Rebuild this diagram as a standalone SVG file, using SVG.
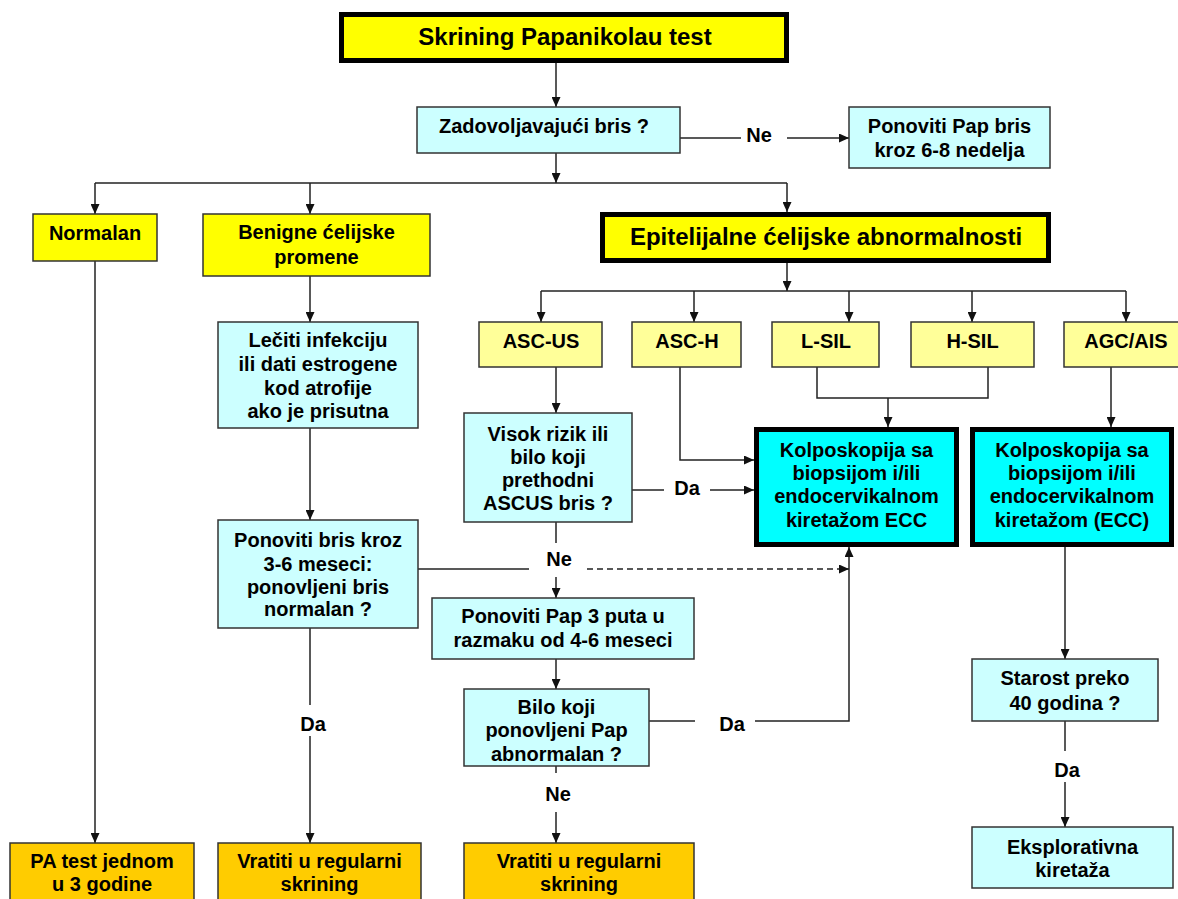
<svg xmlns="http://www.w3.org/2000/svg" width="1178" height="899" viewBox="0 0 1178 899">
<style>
text{font-family:"Liberation Sans",Arial,sans-serif;font-weight:bold;font-size:20px;fill:#000;text-anchor:middle}
.big{font-size:24px}
.thin{stroke:#333;stroke-width:1.5}
.thick{stroke:#000;stroke-width:5}
.y{fill:#FFFF00}.ly{fill:#FFFF99}.c{fill:#CCFFFF}.cc{fill:#00FFFF}.o{fill:#FFCC00}
.ln{fill:none;stroke:#222;stroke-width:1.5}
.ar{marker-end:url(#ah)}
.dash{stroke-dasharray:6,4}
</style>
<defs>
<marker id="ah" markerUnits="userSpaceOnUse" markerWidth="10" markerHeight="9" refX="10" refY="4.5" orient="auto"><path d="M0,0 L10,4.5 L0,9 z" fill="#111"/></marker>
</defs>
<rect width="1178" height="899" fill="#fff"/>
<g id="connectors">
<path class="ln ar" d="M556 63 V107"/>
<path class="ln" d="M680 138 H741"/>
<path class="ln ar" d="M787 138 H849"/>
<path class="ln ar" d="M556 153 V183"/>
<path class="ln" d="M95 183 H787"/>
<path class="ln ar" d="M95 183 V214"/>
<path class="ln ar" d="M310 183 V214"/>
<path class="ln ar" d="M787 183 V212"/>
<path class="ln ar" d="M95 261 V843"/>
<path class="ln ar" d="M310 276 V322"/>
<path class="ln ar" d="M310 428 V520"/>
<path class="ln" d="M310 628 V705"/>
<path class="ln ar" d="M310 736 V843"/>
<path class="ln" d="M418 569 H529"/>
<path class="ln ar" d="M787 263 V291"/>
<path class="ln" d="M541 291 H1126"/>
<path class="ln ar" d="M541 291 V322"/>
<path class="ln ar" d="M694 291 V322"/>
<path class="ln ar" d="M849 291 V322"/>
<path class="ln ar" d="M972 291 V322"/>
<path class="ln ar" d="M1126 291 V322"/>
<path class="ln ar" d="M556 367 V413"/>
<path class="ln ar" d="M680 367 V460 H754"/>
<path class="ln" d="M817 367 V398 H988 V367"/>
<path class="ln ar" d="M888 398 V427"/>
<path class="ln ar" d="M1111 367 V427"/>
<path class="ln" d="M632 490 H664"/>
<path class="ln ar" d="M710 490 H754"/>
<path class="ln" d="M556 522 V543"/>
<path class="ln ar" d="M556 577 V598"/>
<path class="ln ar dash" d="M587 569 H849"/>
<path class="ln ar" d="M556 659 V689"/>
<path class="ln" d="M649 721 H695"/>
<path class="ln ar" d="M755 721 H849 V547"/>
<path class="ln" d="M556 766 V773"/>
<path class="ln ar" d="M556 812 V843"/>
<path class="ln ar" d="M1065 547 V659"/>
<path class="ln" d="M1065 721 V751"/>
<path class="ln ar" d="M1065 782 V827"/>
<text x="759" y="142">Ne</text>
<text x="559" y="566">Ne</text>
<text x="687" y="495">Da</text>
<text x="732" y="731">Da</text>
<text x="313" y="731">Da</text>
<text x="558" y="801">Ne</text>
<text x="1067" y="777">Da</text>
</g>
<g id="n-title"><rect class="y thick" x="341.5" y="14.5" width="445" height="46"/><text class="big" x="565" y="45">Skrining Papanikolau test</text></g>
<g id="n-zad"><rect class="c thin" x="417" y="107" width="263" height="46"/><text x="544" y="133">Zadovoljavajući bris ?</text></g>
<g id="n-ponpap"><rect class="c thin" x="849" y="107" width="201" height="61"/><text x="949.5" y="133">Ponoviti Pap bris</text><text x="949.5" y="157">kroz 6-8 nedelja</text></g>
<g id="n-normalan"><rect class="y thin" x="33" y="214" width="124" height="47"/><text x="95" y="240">Normalan</text></g>
<g id="n-benigne"><rect class="y thin" x="203" y="214" width="227" height="62"/><text x="316.5" y="239">Benigne ćelijske</text><text x="316.5" y="264">promene</text></g>
<g id="n-epitel"><rect class="y thick" x="602.5" y="214.5" width="446" height="46"/><text class="big" x="826" y="245">Epitelijalne ćelijske abnormalnosti</text></g>
<g id="n-ascus"><rect class="ly thin" x="479" y="322" width="123" height="45"/><text x="541" y="348">ASC-US</text></g>
<g id="n-asch"><rect class="ly thin" x="632" y="322" width="109" height="45"/><text x="687" y="348">ASC-H</text></g>
<g id="n-lsil"><rect class="ly thin" x="772" y="322" width="107" height="45"/><text x="826" y="348">L-SIL</text></g>
<g id="n-hsil"><rect class="ly thin" x="911" y="322" width="123" height="45"/><text x="972.5" y="348">H-SIL</text></g>
<g id="n-agc"><rect class="ly thin" x="1064" y="322" width="120" height="45"/><text x="1126" y="348">AGC/AIS</text></g>
<g id="n-leciti"><rect class="c thin" x="218" y="322" width="200" height="106"/><text x="318" y="347">Lečiti infekciju</text><text x="318" y="371">ili dati estrogene</text><text x="318" y="395">kod atrofije</text><text x="318" y="418">ako je prisutna</text></g>
<g id="n-visok"><rect class="c thin" x="464" y="413" width="168" height="109"/><text x="548" y="441">Visok rizik ili</text><text x="548" y="464">bilo koji</text><text x="548" y="487">prethodni</text><text x="548" y="510">ASCUS bris ?</text></g>
<g id="n-kolpo1"><rect class="cc thick" x="756.5" y="429.5" width="200" height="115"/><text x="856.5" y="457">Kolposkopija sa</text><text x="856.5" y="480">biopsijom i/ili</text><text x="856.5" y="503">endocervikalnom</text><text x="856.5" y="527">kiretažom ECC</text></g>
<g id="n-kolpo2"><rect class="cc thick" x="972.5" y="429.5" width="199" height="115"/><text x="1072" y="457">Kolposkopija sa</text><text x="1072" y="480">biopsijom i/ili</text><text x="1072" y="503">endocervikalnom</text><text x="1072" y="527">kiretažom (ECC)</text></g>
<g id="n-ponbris"><rect class="c thin" x="218" y="520" width="200" height="108"/><text x="318" y="547">Ponoviti bris kroz</text><text x="318" y="571">3-6 meseci:</text><text x="318" y="594">ponovljeni bris</text><text x="318" y="616">normalan ?</text></g>
<g id="n-pap3"><rect class="c thin" x="432" y="598" width="262" height="61"/><text x="563" y="623">Ponoviti Pap 3 puta u</text><text x="563" y="647">razmaku od 4-6 meseci</text></g>
<g id="n-bilo"><rect class="c thin" x="464" y="689" width="185" height="77"/><text x="556.5" y="714">Bilo koji</text><text x="556.5" y="737">ponovljeni Pap</text><text x="556.5" y="761">abnormalan ?</text></g>
<g id="n-starost"><rect class="c thin" x="972" y="659" width="186" height="62"/><text x="1065" y="685">Starost preko</text><text x="1065" y="710">40 godina ?</text></g>
<g id="n-eksp"><rect class="c thin" x="972" y="827" width="201" height="61"/><text x="1072.5" y="854">Eksplorativna</text><text x="1072.5" y="877">kiretaža</text></g>
<g id="n-patest"><rect class="o thin" x="10" y="843" width="184" height="64"/><text x="102" y="868">PA test jednom</text><text x="102" y="891">u 3 godine</text></g>
<g id="n-vratiti1"><rect class="o thin" x="218" y="843" width="203" height="64"/><text x="319.5" y="868">Vratiti u regularni</text><text x="319.5" y="891">skrining</text></g>
<g id="n-vratiti2"><rect class="o thin" x="464" y="843" width="230" height="64"/><text x="579" y="868">Vratiti u regularni</text><text x="579" y="891">skrining</text></g>
</svg>
